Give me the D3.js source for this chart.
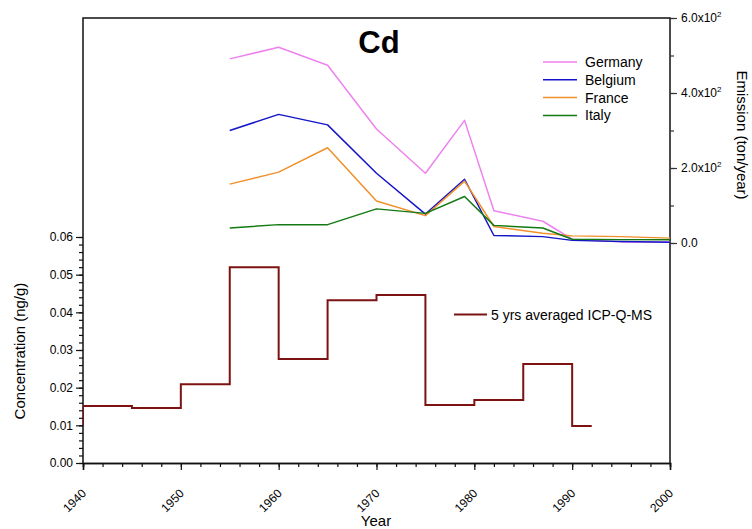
<!DOCTYPE html>
<html><head><meta charset="utf-8">
<script src="https://cdn.jsdelivr.net/npm/d3@7"></script>
<style>
body{margin:0;background:#fff;}
text{font-family:"Liberation Sans",Arial,Helvetica,sans-serif;fill:#000;}
</style></head>
<body>
<svg id="chart" width="752" height="529"></svg>
<script>
// ---- data ----
const emissionYears = [1955, 1960, 1965, 1970, 1975, 1979, 1982, 1987, 1990, 1995, 2000];
const germany = [491, 522, 474, 304, 186, 327, 86, 58, 10, 3, 3];
const belgium = [300, 343, 315, 186, 77, 170, 20, 17, 7, 4, 2];
const france  = [157, 189, 254, 112, 73, 165, 44, 26, 19, 17, 13];
const italy   = [40, 49, 49, 91, 79, 124, 47, 40, 10, 9, 9];
const seriesNames = ["Germany", "Belgium", "France", "Italy"];
const seriesColors = ["#ee82ee", "#1515c8", "#f0902a", "#137a13"];

const concStart = [1935, 1940, 1945, 1950, 1955, 1960, 1965, 1970, 1975, 1980, 1985, 1990];
const concEnd   = [1940, 1945, 1950, 1955, 1960, 1965, 1970, 1975, 1980, 1985, 1990, 1992];
const concValue = [0.0100, 0.0151, 0.0146, 0.0209, 0.0520, 0.0276, 0.0432, 0.0446, 0.0154, 0.0167, 0.0263, 0.0098];

const xTicks = [1940, 1950, 1960, 1970, 1980, 1990, 2000];
const concTicks = [0, 0.01, 0.02, 0.03, 0.04, 0.05, 0.06];
const emisTicks = [0, 200, 400, 600];
const emisTickMant = ["0.0", "2.0x10", "4.0x10", "6.0x10"];

// ---- layout ----
const L = 83, R = 670, T = 18, B = 463;
const svg = d3.select("#chart");
const x = d3.scaleLinear().domain([1940, 2000]).range([L, R]);
const yC = d3.scaleLinear().domain([0, 0.06]).range([B, 237]);
const yE = d3.scaleLinear().domain([0, 600]).range([243, T]);

svg.append("defs").append("clipPath").attr("id", "clip")
  .append("rect").attr("x", L).attr("y", T).attr("width", R - L).attr("height", B - T);

// frame
svg.append("path").attr("d", `M${L},${B}V${T}H${R}V${B}`)
  .attr("fill", "none").attr("stroke", "#111").attr("stroke-width", 1.5);

// x axis
const xMinor = d3.range(1940, 2001, 2);
const gx = svg.append("g").attr("transform", `translate(0,${B})`);
gx.call(d3.axisBottom(x).tickValues(xMinor).tickSize(4).tickFormat(""));
gx.call(g => g.append("g").call(d3.axisBottom(x).tickValues(xTicks).tickSize(7).tickFormat("")));
gx.selectAll(".domain").attr("stroke", "#111").attr("stroke-width", 1.5);
gx.selectAll(".tick line").attr("stroke", "#111").attr("stroke-width", 1.2);
svg.append("g").selectAll("text").data(xTicks).join("text")
  .attr("transform", d => `translate(${x(d) + 4},${494}) rotate(-45)`)
  .attr("text-anchor", "end").attr("font-size", 12).text(d => d);
svg.append("text").attr("x", 376).attr("y", 526).attr("text-anchor", "middle")
  .attr("font-size", 15).text("Year");

// left axis
const cMinor = d3.range(0, 0.0601, 0.002);
const gl = svg.append("g").attr("transform", `translate(${L},0)`);
gl.call(d3.axisLeft(yC).tickValues(cMinor).tickSize(4).tickFormat(""));
gl.call(g => g.append("g").call(d3.axisLeft(yC).tickValues(concTicks).tickSize(7).tickPadding(3).tickFormat(d3.format(".2f"))));
gl.selectAll(".domain").remove();
gl.selectAll(".tick line").attr("stroke", "#111").attr("stroke-width", 1.2);
gl.selectAll(".tick text").attr("font-size", 12).attr("font-family", "Liberation Sans, Arial, sans-serif").attr("fill", "#000");
svg.append("text").attr("transform", `translate(25,351) rotate(-90)`)
  .attr("text-anchor", "middle").attr("font-size", 15).text("Concentration (ng/g)");

// right axis
const eMinor = d3.range(0, 601, 100);
const gr = svg.append("g").attr("transform", `translate(${R},0)`);
gr.call(d3.axisRight(yE).tickValues(eMinor).tickSize(4).tickFormat(""));
gr.call(g => g.append("g").call(d3.axisRight(yE).tickValues(emisTicks).tickSize(7).tickFormat("")));
gr.selectAll(".domain").remove();
gr.selectAll(".tick line").attr("stroke", "#333").attr("stroke-width", 1.2);
const rl = svg.append("g").selectAll("text").data(emisTicks).join("text")
  .attr("x", R + 11).attr("y", d => yE(d) + 4).attr("font-size", 12);
rl.append("tspan").text((d, i) => emisTickMant[i]);
rl.filter(d => d !== 0).append("tspan").attr("dy", -5).attr("font-size", 8).text("2");
svg.append("text").attr("transform", `translate(737,135) rotate(90)`)
  .attr("text-anchor", "middle").attr("font-size", 15).text("Emission (ton/year)");

// emission lines
const allSeries = [germany, belgium, france, italy];
const eLine = d3.line().x((d, i) => x(emissionYears[i])).y(d => yE(d));
svg.append("g").selectAll("path").data(allSeries).join("path")
  .attr("d", d => eLine(d)).attr("fill", "none")
  .attr("stroke", (d, i) => seriesColors[i]).attr("stroke-width", 1.5)
  .attr("stroke-linejoin", "round");

// concentration step line
const stepPts = [];
concStart.forEach((s, i) => { stepPts.push([s, concValue[i]]); stepPts.push([concEnd[i], concValue[i]]); });
const cLine = d3.line().x(d => x(d[0])).y(d => yC(d[1]));
svg.append("path").attr("clip-path", "url(#clip)").attr("d", cLine(stepPts))
  .attr("fill", "none").attr("stroke", "#7d1212").attr("stroke-width", 2);

// title
svg.append("text").attr("x", 379).attr("y", 53).attr("text-anchor", "middle")
  .attr("font-size", 31).attr("font-weight", "bold").text("Cd");

// emission legend
const lg = svg.append("g").selectAll("g").data(seriesNames).join("g")
  .attr("transform", (d, i) => `translate(0,${62 + i * 17.8})`);
lg.append("line").attr("x1", 543).attr("x2", 577).attr("y1", 0).attr("y2", 0)
  .attr("stroke", (d, i) => seriesColors[i]).attr("stroke-width", 1.5);
lg.append("text").attr("x", 585).attr("y", 5).attr("font-size", 14).text(d => d);

// conc legend
svg.append("line").attr("x1", 454).attr("x2", 487).attr("y1", 314.5).attr("y2", 314.5)
  .attr("stroke", "#7d1212").attr("stroke-width", 2);
svg.append("text").attr("x", 491).attr("y", 320).attr("font-size", 14).text("5 yrs averaged ICP-Q-MS");
</script>
</body></html>
